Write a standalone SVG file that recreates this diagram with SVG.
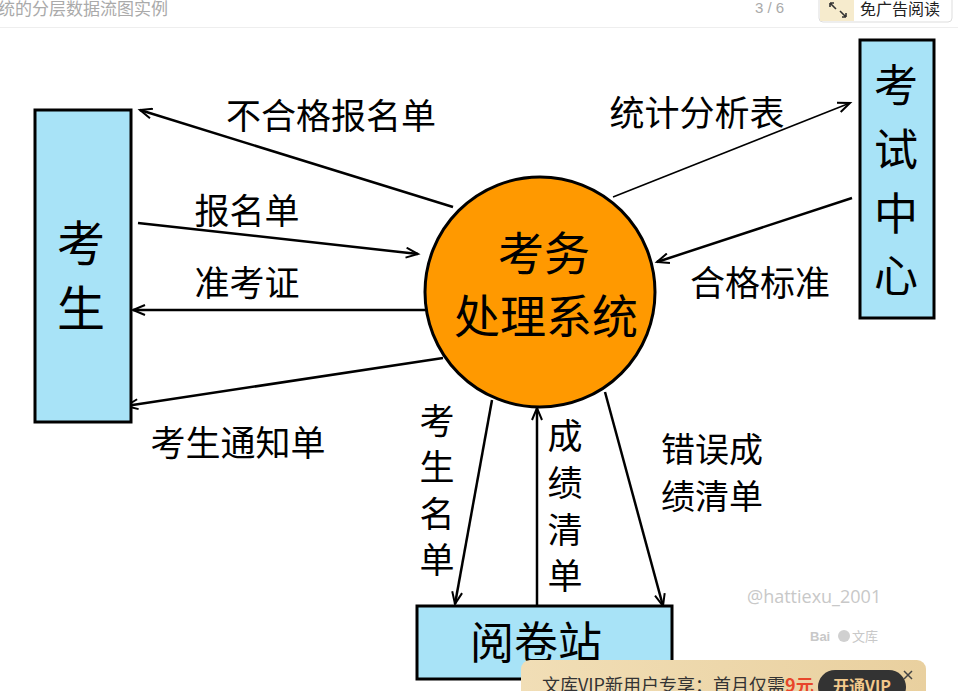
<svg xmlns="http://www.w3.org/2000/svg" width="958" height="691" viewBox="0 0 958 691">
<defs>
<style>
.cn{font-family:"Noto Sans CJK SC","Noto Sans",sans-serif;fill:#000;text-anchor:middle;dominant-baseline:central}
.lbl{font-size:35px}
.box{fill:#a8e3f7;stroke:#000;stroke-width:3}
.ln{stroke:#000;stroke-width:2.5;fill:none;marker-end:url(#ah)}
.thin{stroke-width:1.5}
</style>
<marker id="ah" markerUnits="userSpaceOnUse" markerWidth="16" markerHeight="12" refX="13" refY="6" orient="auto">
<path d="M1,1 L13,6 L1,11" fill="none" stroke="#000" stroke-width="2"/>
</marker>
<linearGradient id="bg" x1="0" y1="0" x2="1" y2="0">
<stop offset="0" stop-color="#f1deb6"/>
<stop offset="1" stop-color="#e9d09f"/>
</linearGradient>
</defs>
<rect width="958" height="691" fill="#fff"/>
<!-- header -->
<g id="header">
<text x="-2" y="15" font-family="'Noto Sans CJK SC',sans-serif" font-size="17" fill="#aaa">统的分层数据流图实例</text>
<text x="755" y="13" font-family="'Liberation Sans',sans-serif" font-size="15" fill="#aaa">3 / 6</text>
<rect x="819" y="-5" width="133" height="27" rx="4" fill="#fff" stroke="#ddd"/>
<rect x="820" y="-4" width="34" height="25" fill="#f6ebcd"/>
<path d="M830,3 L836,9 M830,3 L830,7 M830,3 L834,3 M846,17 L840,11 M846,17 L846,13 M846,17 L842,17" stroke="#333" stroke-width="1.6" fill="none"/>
<text x="860" y="15" font-family="'Noto Sans CJK SC',sans-serif" font-size="16" fill="#222">免广告阅读</text>
<line x1="0" y1="27.5" x2="958" y2="27.5" stroke="#eee"/>
</g>
<!-- connectors -->
<g id="connectors">
<line class="ln" x1="453" y1="207" x2="140" y2="110"/>
<line class="ln" x1="138" y1="223" x2="418" y2="254"/>
<line class="ln" x1="431" y1="310" x2="133" y2="310"/>
<line class="ln" x1="443" y1="358" x2="126" y2="406"/>
<line class="ln thin" x1="613" y1="197" x2="850" y2="103"/>
<line class="ln" x1="852" y1="198" x2="657" y2="262"/>
<line class="ln" x1="492" y1="400" x2="455" y2="604"/>
<line class="ln" x1="537" y1="606" x2="537" y2="408"/>
<line class="ln" x1="605" y1="392" x2="663" y2="606"/>
</g>
<!-- nodes -->
<g id="node-student">
<rect class="box" x="35" y="110" width="96" height="312"/>
<text class="cn" x="81" y="240" font-size="48">考</text>
<text class="cn" x="81" y="305" font-size="48">生</text>
</g>
<g id="node-exam-center">
<rect class="box" x="860" y="40" width="74" height="278"/>
<text class="cn" x="896" y="83" font-size="44">考</text>
<text class="cn" x="896" y="147" font-size="44">试</text>
<text class="cn" x="896" y="211" font-size="44">中</text>
<text class="cn" x="896" y="273" font-size="44">心</text>
</g>
<g id="node-process">
<circle cx="540" cy="292" r="115" fill="#ff9900" stroke="#000" stroke-width="3"/>
<text class="cn" x="544" y="250" font-size="46">考务</text>
<text class="cn" x="546" y="313" font-size="46">处理系统</text>
</g>
<g id="node-grading">
<rect class="box" x="417" y="606" width="255" height="73"/>
<text class="cn" x="536" y="640" font-size="44">阅卷站</text>
</g>
<!-- labels -->
<g id="labels">
<text class="cn lbl" x="331" y="113">不合格报名单</text>
<text class="cn lbl" x="247" y="208">报名单</text>
<text class="cn lbl" x="247" y="280">准考证</text>
<text class="cn lbl" x="238" y="440">考生通知单</text>
<text class="cn lbl" x="697" y="110">统计分析表</text>
<text class="cn lbl" x="760" y="280">合格标准</text>
<text class="cn lbl" x="437" y="418">考</text>
<text class="cn lbl" x="437" y="464">生</text>
<text class="cn lbl" x="437" y="511">名</text>
<text class="cn lbl" x="437" y="557">单</text>
<text class="cn lbl" x="565" y="433">成</text>
<text class="cn lbl" x="565" y="480">绩</text>
<text class="cn lbl" x="565" y="527">清</text>
<text class="cn lbl" x="565" y="573">单</text>
<text class="cn" x="712" y="447" font-size="34">错误成</text>
<text class="cn" x="712" y="494" font-size="34">绩清单</text>
</g>
<!-- watermark -->
<g id="watermark">
<text x="747" y="603" font-family="'Open Sans','Liberation Sans',sans-serif" font-size="18" fill="#c8c8c8">@hattiexu_2001</text>
<text x="810" y="641" font-family="'Liberation Sans',sans-serif" font-size="13" font-weight="bold" fill="#c8c8c8">Bai</text>
<circle cx="844" cy="636" r="6" fill="#d0d0d0"/>
<text x="852" y="641" font-family="'Noto Sans CJK SC',sans-serif" font-size="13" fill="#c8c8c8">文库</text>
</g>
<!-- banner -->
<g id="banner">
<rect x="521" y="660" width="405" height="45" rx="9" fill="url(#bg)"/>
<text x="542" y="692" font-family="'Noto Sans CJK SC',sans-serif" font-size="18" fill="#333">文库VIP新用户专享：首月仅需<tspan fill="#e8462a" font-weight="bold">9元</tspan></text>
<rect x="818" y="670" width="88" height="34" rx="17" fill="#333"/>
<text x="862" y="692" text-anchor="middle" font-family="'Noto Sans CJK SC',sans-serif" font-size="16" font-weight="bold" fill="#f2c98c">开通VIP</text>
<path d="M904,671 L912,679 M912,671 L904,679" stroke="#444" stroke-width="1.5"/>
</g>
</svg>
